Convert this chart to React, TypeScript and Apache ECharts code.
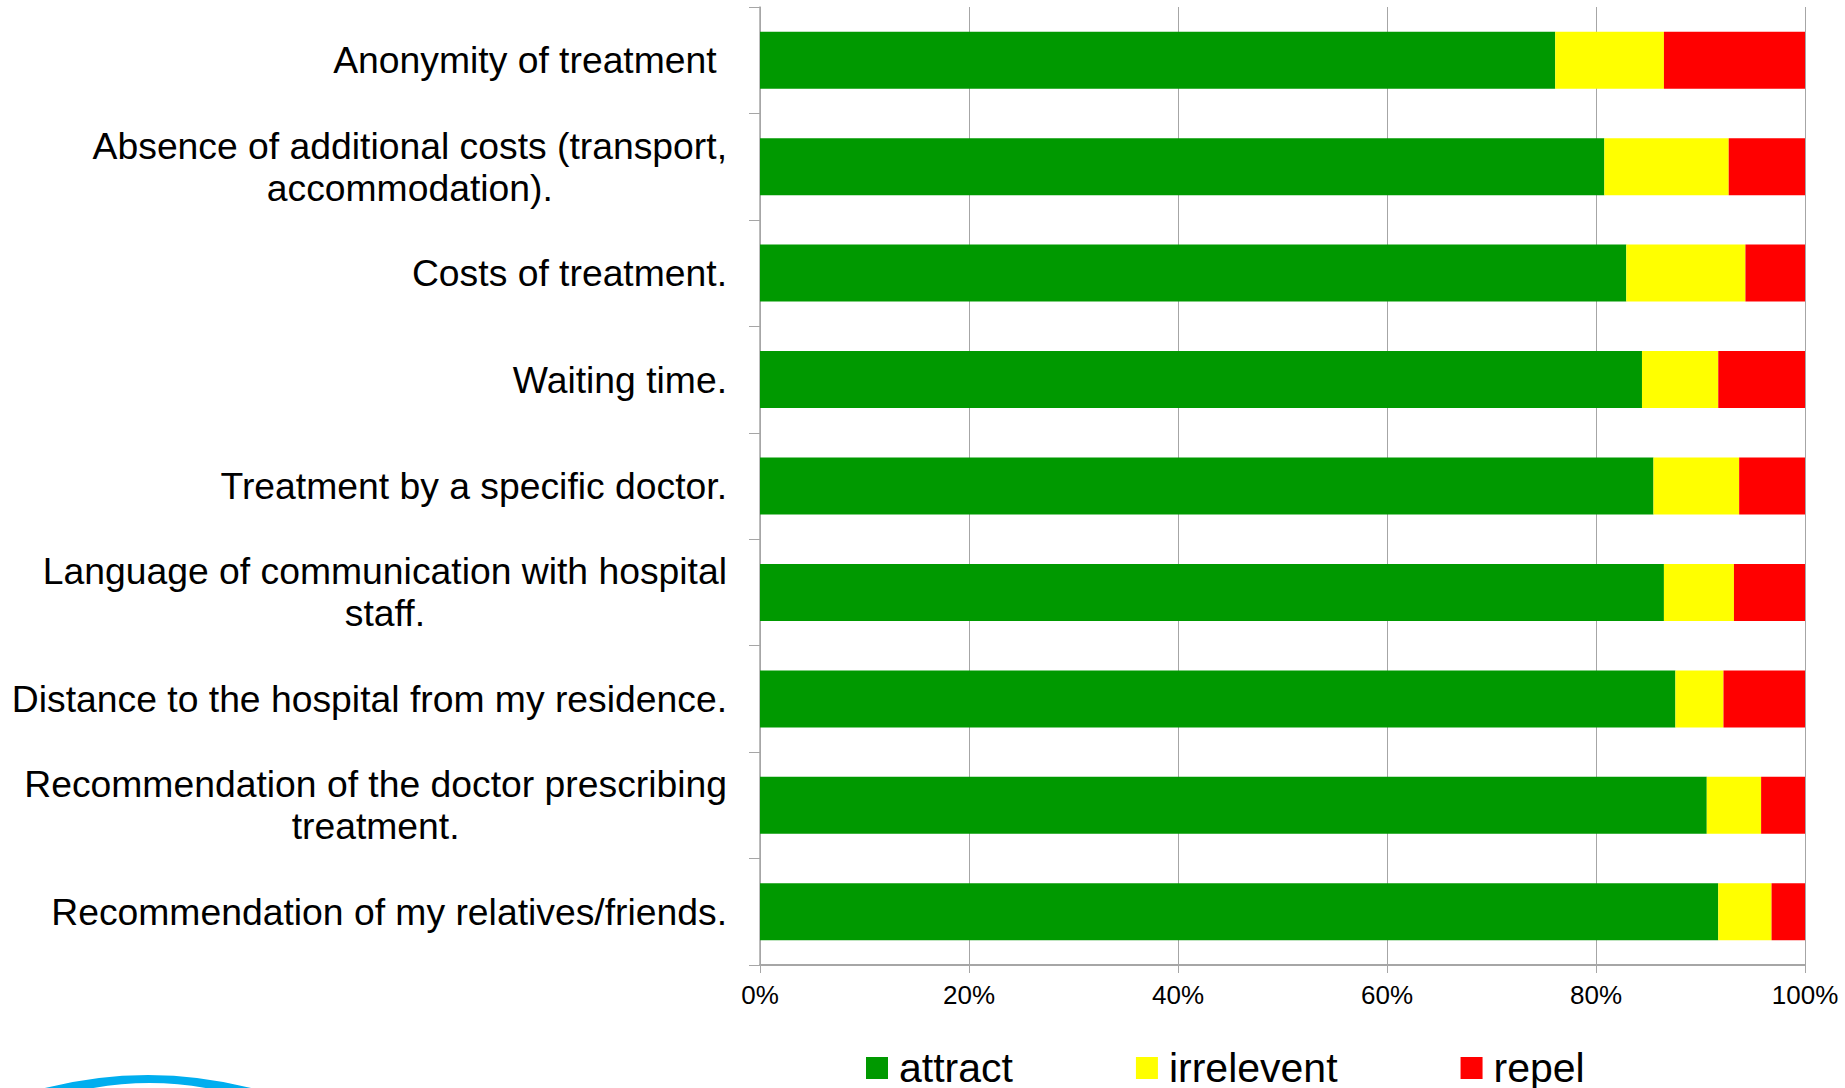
import React, { useEffect, useRef } from "react";
import * as echarts from "echarts";

const categories: string[] = [
  "Anonymity of treatment ",
  "Absence of additional costs (transport,\naccommodation).",
  "Costs of treatment.",
  "Waiting time.",
  "Treatment by a specific doctor.",
  "Language of communication with hospital\nstaff.",
  "Distance to the hospital from my residence.",
  "Recommendation of the doctor prescribing\ntreatment.",
  "Recommendation of my relatives/friends.",
];

const attract: number[] = [76.1, 80.8, 82.9, 84.4, 85.5, 86.5, 87.6, 90.6, 91.7];
const irrelevent: number[] = [10.4, 11.9, 11.4, 7.3, 8.2, 6.7, 4.6, 5.2, 5.1];
const repel: number[] = [13.5, 7.3, 5.7, 8.3, 6.3, 6.8, 7.8, 4.2, 3.2];

const seriesNames: string[] = ["attract", "irrelevent", "repel"];
const seriesColors: string[] = ["#009900", "#FFFF00", "#FF0000"];
const xTicks: number[] = [0, 20, 40, 60, 80, 100];

const FONT = "'Liberation Sans', Arial, Helvetica, sans-serif";
const GRAY = "#A6A6A6";

const logoPath =
  "M 41 1089 Q 148 1061 255 1089 L 211 1089 Q 150 1077 88 1089 Z";

export default function App() {
  const ref = useRef<HTMLDivElement>(null);

  useEffect(() => {
    if (!ref.current) return;
    echarts.graphic.registerShape(
      "logo",
      echarts.graphic.extendPath(logoPath, {}) as any
    );
    const chart = echarts.init(ref.current, undefined, { renderer: "svg" });
    const values = [attract, irrelevent, repel];
    chart.setOption({
      animation: false,
      backgroundColor: "#FFFFFF",
      grid: { left: 760, right: 40, top: 7, bottom: 123, containLabel: false },
      legend: {
        data: seriesNames,
        left: 861,
        top: 1041,
        icon: "rect",
        itemWidth: 22,
        itemHeight: 22,
        itemGap: 123,
        textStyle: {
          fontFamily: FONT,
          fontSize: 41,
          lineHeight: 44,
          color: "#000",
          padding: [0, 0, 0, 6],
        },
      },
      xAxis: {
        type: "value",
        min: xTicks[0],
        max: xTicks[xTicks.length - 1],
        interval: xTicks[1] - xTicks[0],
        axisLine: { show: true, lineStyle: { color: GRAY, width: 2 } },
        axisTick: { show: true, length: 8, lineStyle: { color: GRAY, width: 1 } },
        splitLine: { show: true, lineStyle: { color: GRAY, width: 1 } },
        axisLabel: {
          formatter: "{value}%",
          fontFamily: FONT,
          fontSize: 26,
          color: "#000",
          margin: 17,
        },
      },
      yAxis: {
        type: "category",
        inverse: true,
        data: categories,
        axisLine: { show: true, lineStyle: { color: GRAY, width: 1.5 } },
        axisTick: { show: true, length: 11, alignWithLabel: false, lineStyle: { color: GRAY, width: 1 } },
        splitLine: { show: false },
        axisLabel: {
          margin: 33,
          interval: 0,
          color: "#000",
          fontFamily: FONT,
          fontSize: 37.3,
          lineHeight: 42,
          formatter: (v: string) =>
            v
              .split("\n")
              .map((l) => `{c|${l}}`)
              .join("\n"),
          rich: {
            c: {
              align: "center",
              fontFamily: FONT,
              fontSize: 37.3,
              lineHeight: 42,
              color: "#000",
            },
          },
        },
      },
      series: seriesNames.map((name, i) => ({
        name,
        type: "bar",
        stack: "total",
        barWidth: 57,
        itemStyle: { color: seriesColors[i] },
        data: values[i],
      })),
      graphic: [
        {
          type: "logo",
          x: 0,
          y: 0,
          style: { fill: "#00AEEF" },
          silent: true,
        },
      ],
    });
    return () => chart.dispose();
  }, []);

  return (
    <div
      ref={ref}
      style={{ position: "fixed", left: 0, top: 0, width: 1845, height: 1088 }}
    />
  );
}
